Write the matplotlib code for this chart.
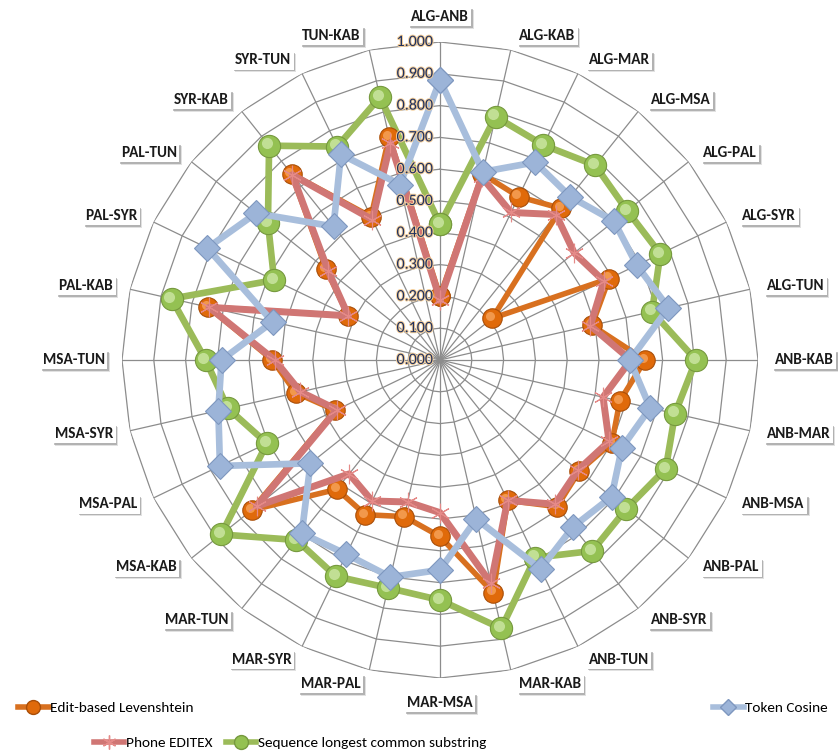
import numpy as np
import matplotlib
matplotlib.use("Agg")
import matplotlib.pyplot as plt
from matplotlib.lines import Line2D
from matplotlib.patches import Rectangle
from matplotlib import font_manager
import matplotlib.patheffects as pe
import matplotlib.transforms as mtransforms

categories = ["ALG-ANB", "ALG-KAB", "ALG-MAR", "ALG-MSA", "ALG-PAL", "ALG-SYR", "ALG-TUN",
              "ANB-KAB", "ANB-MAR", "ANB-MSA", "ANB-PAL", "ANB-SYR", "ANB-TUN", "MAR-KAB",
              "MAR-MSA", "MAR-PAL", "MAR-SYR", "MAR-TUN", "MSA-KAB", "MSA-PAL", "MSA-SYR",
              "MSA-TUN", "PAL-KAB", "PAL-SYR", "PAL-TUN", "SYR-KAB", "SYR-TUN", "TUN-KAB"]

levenshtein = [0.20, 0.60, 0.57, 0.61, 0.21, 0.59, 0.49, 0.645, 0.58, 0.60, 0.56, 0.59, 0.49, 0.75,
               0.555, 0.505, 0.54, 0.52, 0.757, 0.365, 0.465, 0.527, 0.747, 0.32, 0.458, 0.748, 0.50, 0.72]
editex = [0.19, 0.59, 0.515, 0.585, 0.54, 0.572, 0.485, 0.60, 0.526, 0.59, 0.555, 0.58, 0.49, 0.72,
          0.48, 0.458, 0.492, 0.458, 0.738, 0.36, 0.45, 0.52, 0.745, 0.32, 0.45, 0.745, 0.49, 0.70]
lcs = [0.427, 0.785, 0.75, 0.783, 0.753, 0.769, 0.684, 0.805, 0.758, 0.788, 0.75, 0.768, 0.69, 0.866,
       0.755, 0.735, 0.755, 0.724, 0.88, 0.604, 0.684, 0.737, 0.866, 0.579, 0.692, 0.862, 0.745, 0.848]
cosine = [0.88, 0.607, 0.69, 0.657, 0.70, 0.687, 0.737, 0.597, 0.678, 0.635, 0.69, 0.671, 0.729, 0.513,
          0.66, 0.70, 0.678, 0.697, 0.521, 0.768, 0.715, 0.687, 0.54, 0.812, 0.74, 0.537, 0.718, 0.566]

tick_values = [0.0, 0.1, 0.2, 0.3, 0.4, 0.5, 0.6, 0.7, 0.8, 0.9, 1.0]

# pick a compact sans family that is installed
_installed = {f.name for f in font_manager.fontManager.ttflist}
NARROW_FAMILY = "Lato"
for cand in ["Carlito", "Liberation Sans Narrow", "DejaVu Sans Condensed", "Roboto Condensed", "Lato"]:
    if cand in _installed:
        NARROW_FAMILY = cand
        break
NARROW = [NARROW_FAMILY, "DejaVu Sans"]
LBL_SIZE = 11
LEG_SIZE = 11
TICK_SIZE = 11.5

W, H = 838, 755
fig = plt.figure(figsize=(W / 100, H / 100), dpi=100)
fig.patch.set_facecolor("white")

cx, cy, R = 440, 360, 318
ax = fig.add_axes([(cx - R) / W, (H - cy - R) / H, 2 * R / W, 2 * R / H], projection="polar")
ax.set_theta_offset(np.pi / 2)
ax.set_theta_direction(-1)
ax.set_ylim(0, 1.0)
ax.set_xticks([])
ax.set_yticks([])
ax.grid(False)
ax.spines["polar"].set_visible(False)
ax.patch.set_visible(False)

n = len(categories)
theta = np.arange(n) * 2 * np.pi / n
theta_closed = np.append(theta, theta[0])

# polygonal rings and spokes
grid_col = "#8c8c8c"
for r in tick_values[1:]:
    ax.plot(theta_closed, [r] * (n + 1), color=grid_col, lw=0.9, zorder=1)
for t in theta:
    ax.plot([t, t], [0, 1.0], color=grid_col, lw=0.9, zorder=1)


def closed(vals):
    return np.append(vals, vals[0])


hl = mtransforms.offset_copy(ax.transData, fig=fig, x=-2.2, y=2.2, units="dots")

# series (with a small glossy highlight on the round markers)
ax.plot(theta_closed, closed(lcs), color="#9BBB59", lw=4.8, zorder=3,
        marker="o", markersize=16, markerfacecolor="#94C152", markeredgecolor="#76993E",
        markeredgewidth=0.8, clip_on=False)
ax.plot(theta, lcs, ls="none", marker="o", markersize=8, markerfacecolor="#CDE7A6",
        markeredgecolor="none", alpha=0.8, transform=hl, zorder=3.1, clip_on=False)

ax.plot(theta_closed, closed(levenshtein), color="#D8701F", lw=4.0, zorder=4,
        marker="o", markersize=14, markerfacecolor="#E06A0A", markeredgecolor="#A94E08",
        markeredgewidth=0.8, clip_on=False)
ax.plot(theta, levenshtein, ls="none", marker="o", markersize=6.5, markerfacecolor="#F7A45C",
        markeredgecolor="none", alpha=0.8, transform=hl, zorder=4.1, clip_on=False)

ax.plot(theta_closed, closed(editex), color="#D07674", lw=5.0, zorder=5,
        marker=(6, 2, 0), markersize=14, markeredgecolor="#E58A88", markeredgewidth=0.8,
        clip_on=False)

ax.plot(theta_closed, closed(cosine), color="#A8BEDC", lw=4.8, zorder=6,
        marker="D", markersize=13, markerfacecolor="#9CB4D8", markeredgecolor="#7E97BF",
        markeredgewidth=0.8, clip_on=False)

# radial value labels
for v in tick_values:
    ax.annotate(f"{v:.3f}", xy=(0, v), xytext=(-5, 0), textcoords="offset points",
                ha="right", va="center", fontsize=TICK_SIZE, color="#1F3160", family=NARROW,
                zorder=8, path_effects=[pe.withStroke(linewidth=1.4, foreground="#F3CC96")])

# category labels in white boxes
renderer = fig.canvas.get_renderer()
px2pt = 72 / 100
cat_texts = []
for t, name in zip(theta, categories):
    a = np.pi / 2 - t
    c, s = np.cos(a), np.sin(a)
    probe = fig.text(0, 0, name, fontsize=LBL_SIZE, fontweight="bold", family=NARROW)
    w = probe.get_window_extent(renderer).width + 4
    probe.remove()
    if abs(c) < 0.05:
        ox, oy = 0.0, 25 * np.sign(s)
    else:
        ox = np.sign(c) * (4 + 11 * abs(c) + w / 2)
        oy = 14.5 * s
    txt = ax.annotate(name, xy=(t, 1.0), xytext=(ox * px2pt, oy * px2pt),
                      textcoords="offset points", ha="center", va="center",
                      fontsize=LBL_SIZE, fontweight="bold", family=NARROW, color="#1a1a1a",
                      zorder=10, annotation_clip=False,
                      bbox=dict(boxstyle="square,pad=0.15", facecolor="white", edgecolor="none"))
    cat_texts.append(txt)

# soft drop shadow behind each label box (drawn beneath the axes)
fig.canvas.draw()
for txt in cat_texts:
    bb = txt.get_bbox_patch().get_window_extent(renderer)
    for dx, alpha in [(2.6, 0.22), (1.6, 0.45)]:
        fig.add_artist(Rectangle((bb.x0 + dx, bb.y0 - dx), bb.width, bb.height,
                                 transform=None, facecolor="#7a7a7a", edgecolor="none",
                                 alpha=alpha, zorder=-1))

# legend entries
h_lev = Line2D([], [], color="#D8701F", lw=4.0, marker="o", markersize=10,
               markerfacecolor="#E06A0A", markeredgecolor="#A94E08")
h_cos = Line2D([], [], color="#A8BEDC", lw=4.0, marker="D", markersize=8,
               markerfacecolor="#9CB4D8", markeredgecolor="#7E97BF")
h_edx = Line2D([], [], color="#D07674", lw=4.0, marker=(6, 2, 0), markersize=10,
               markeredgecolor="#E58A88")
h_lcs = Line2D([], [], color="#9BBB59", lw=4.0, marker="o", markersize=10,
               markerfacecolor="#94C152", markeredgecolor="#76993E")

leg_kw = dict(frameon=False, handlelength=2.0, handletextpad=0.1, borderaxespad=0,
              prop={"family": NARROW, "size": LEG_SIZE})
l1 = fig.legend(handles=[h_lev], labels=["Edit-based Levenshtein"], loc="center left",
                bbox_to_anchor=(12 / W, 1 - 708 / H), **leg_kw)
l2 = fig.legend(handles=[h_cos], labels=["Token Cosine"], loc="center right",
                bbox_to_anchor=(834 / W, 1 - 708 / H), **leg_kw)
l3 = fig.legend(handles=[h_edx, h_lcs], labels=["Phone EDITEX", "Sequence longest common substring"],
                loc="center", ncol=2, columnspacing=0.9,
                bbox_to_anchor=(290 / W, 1 - 743 / H), **leg_kw)

fig.savefig("out.png", dpi=100, facecolor="white")
